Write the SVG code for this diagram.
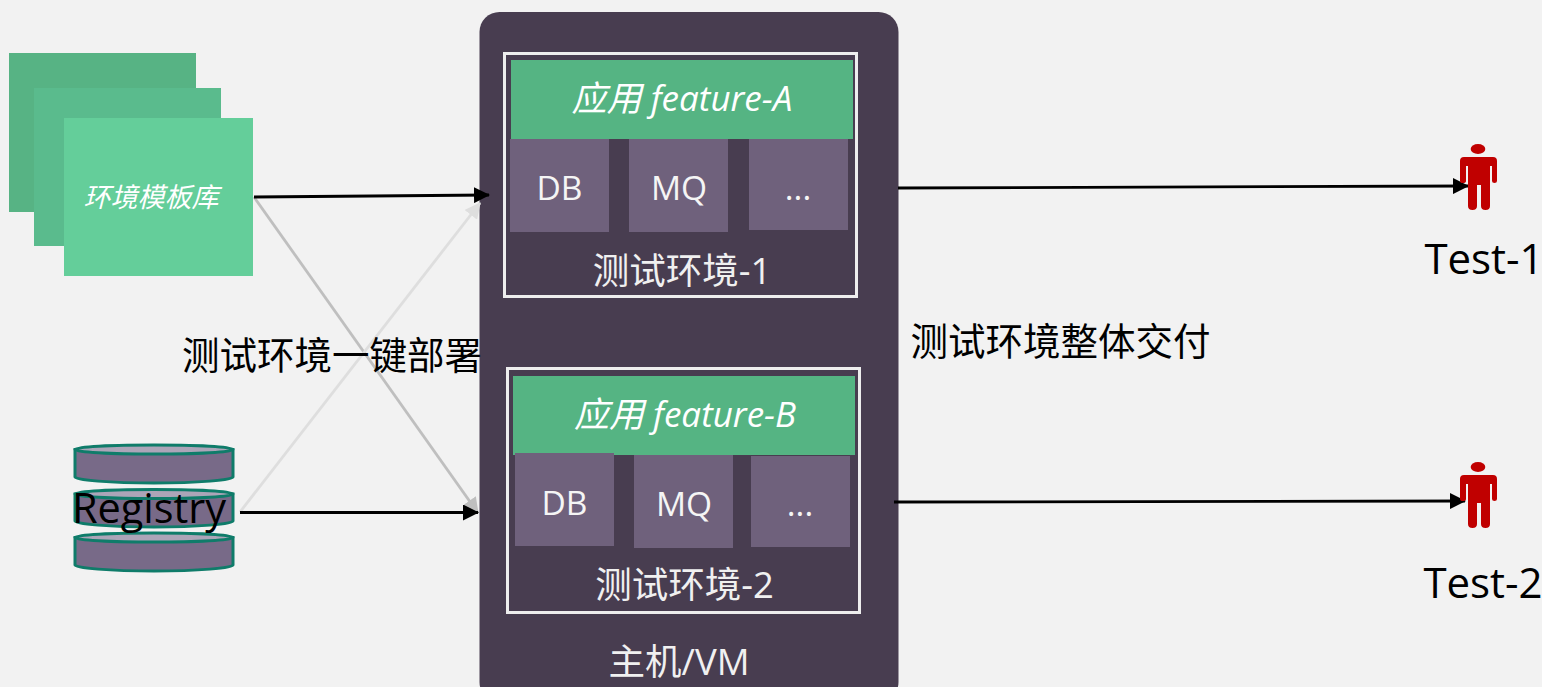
<svg xmlns="http://www.w3.org/2000/svg" width="1542" height="687" viewBox="0 0 1542 687">
<style>
text{font-family:"Open Sans","Noto Sans CJK SC",sans-serif;text-anchor:middle}
.it{font-style:italic;font-size:35px;fill:#fff}
.tpl{font-family:"Noto Sans CJK SC",sans-serif;font-size:27px;font-style:italic;fill:#fff}
.box{fill:none;stroke:#eeeeee;stroke-width:3}
.app{fill:#55b483}
.mid{fill:#6f617c}
.lbl{font-size:33.500px;fill:#f5f5f5}
.env{font-size:36.500px;fill:#f0f0f0}
.blk{font-size:37.500px;fill:#000;font-family:"Noto Sans CJK SC",sans-serif}
.tst{font-size:42px;fill:#000}
.cyl{fill:#786a88;stroke:#0f7c6a;stroke-width:3}
.top{fill:#aca5b8;stroke:#0f7c6a;stroke-width:3}
.ln{fill:none;stroke-width:2.800}
.red{fill:#c00000}
</style>
<defs>
<marker id="ab" markerUnits="userSpaceOnUse" markerWidth="16" markerHeight="16" refX="15" refY="8" orient="auto"><path d="M0 0L16 8L0 16Z" fill="#000"/></marker>
<marker id="ag" markerUnits="userSpaceOnUse" markerWidth="16" markerHeight="16" refX="15" refY="8" orient="auto"><path d="M0 0L16 8L0 16Z" fill="#bfbfbf"/></marker>
<marker id="al" markerUnits="userSpaceOnUse" markerWidth="16" markerHeight="16" refX="15" refY="8" orient="auto"><path d="M0 0L16 8L0 16Z" fill="#dedede"/></marker>
</defs>
<rect width="1542" height="687" fill="#f2f2f2"/>
<g id="templates">
<rect x="9" y="53" width="187" height="159" fill="#57b384"/>
<rect x="34" y="88" width="187" height="158" fill="#5abb8d"/>
<rect x="64" y="118" width="189" height="158" fill="#64ce9a"/>
<text x="151" y="207" class="tpl">环境模板库</text>
</g>
<g id="registry">
<path class="cyl" d="M75 449.500V477C75 480 110 483 154 483C198 483 233 480 233 477V449.500Z"/><ellipse class="top" cx="154" cy="449.500" rx="79" ry="4.500"/>
<path class="cyl" d="M75 494V521C75 524 110 527 154 527C198 527 233 524 233 521V494Z"/><ellipse class="top" cx="154" cy="494" rx="79" ry="4.500"/>
<path class="cyl" d="M75 537.500V565C75 568 110 571 154 571C198 571 233 568 233 565V537.500Z"/><ellipse class="top" cx="154" cy="537.500" rx="79" ry="4.500"/>
<text x="149" y="523" font-size="41.500" fill="#000">Registry</text>
</g>
<g id="host">
<rect x="479.500" y="12" width="419" height="690" rx="20" fill="#483d50"/>
<text x="679" y="675" class="env">主机/VM</text>
</g>
<g id="env-1">
<rect class="box" x="504.500" y="53.500" width="352" height="243"/>
<rect class="app" x="511" y="60" width="342" height="79"/>
<text x="682" y="111" class="it">应用 feature-A</text>
<rect class="mid" x="510" y="139" width="99" height="93"/><text x="559.500" y="200" class="lbl">DB</text>
<rect class="mid" x="629" y="139" width="99" height="93"/><text x="679" y="200" class="lbl">MQ</text>
<rect class="mid" x="749" y="139" width="99" height="91"/><text x="798" y="200" class="lbl">...</text>
<text x="682" y="284" class="env">测试环境-1</text>
</g>
<g id="env-2">
<rect class="box" x="507.500" y="368.500" width="352" height="244"/>
<rect class="app" x="513" y="376" width="342" height="79"/>
<text x="685" y="427" class="it">应用 feature-B</text>
<rect class="mid" x="515" y="453" width="99" height="93"/><text x="564.500" y="515" class="lbl">DB</text>
<rect class="mid" x="634" y="455" width="99" height="93"/><text x="684" y="516" class="lbl">MQ</text>
<rect class="mid" x="751" y="456" width="99" height="91"/><text x="800" y="516" class="lbl">...</text>
<text x="684.500" y="598" class="env">测试环境-2</text>
</g>
<g id="connectors">
<path class="ln" stroke="#bfbfbf" d="M254 197L478 513" marker-end="url(#ag)"/>
<path class="ln" stroke="#dedede" d="M240 512L480 203" marker-end="url(#al)"/>
<path class="ln" stroke="#000" d="M254 197L489 195" marker-end="url(#ab)"/>
<path class="ln" stroke="#000" d="M240 512.500L478 512.500" marker-end="url(#ab)"/>
<path class="ln" stroke="#000" d="M898 188L1468 186" marker-end="url(#ab)"/>
<path class="ln" stroke="#000" d="M894 502L1465 501" marker-end="url(#ab)"/>
</g>
<g id="test-1">
<ellipse class="red" cx="1478" cy="149" rx="7.300" ry="5"/>
<path class="red" d="M1464 157H1493Q1497 157 1497 161V181Q1497 183 1494.500 183Q1492 183 1492 181V166H1490V206Q1490 210 1485.500 210Q1481 210 1481 206V185H1477V206Q1477 210 1472.500 210Q1468 210 1468 206V166H1466V181Q1466 183 1463 183Q1460 183 1460 181V161Q1460 157 1464 157Z"/>
<text x="1484" y="274" class="tst">Test-1</text>
</g>
<g id="test-2">
<ellipse class="red" cx="1478" cy="467" rx="7.300" ry="5"/>
<path class="red" d="M1464 475H1493Q1497 475 1497 479V499Q1497 501 1494.500 501Q1492 501 1492 499V484H1490V524Q1490 528 1485.500 528Q1481 528 1481 524V503H1477V524Q1477 528 1472.500 528Q1468 528 1468 524V484H1466V499Q1466 501 1463 501Q1460 501 1460 499V479Q1460 475 1464 475Z"/>
<text x="1483" y="598" class="tst">Test-2</text>
</g>
<text x="332" y="369" class="blk">测试环境一键部署</text>
<text x="1060.500" y="355" class="blk">测试环境整体交付</text>
</svg>
